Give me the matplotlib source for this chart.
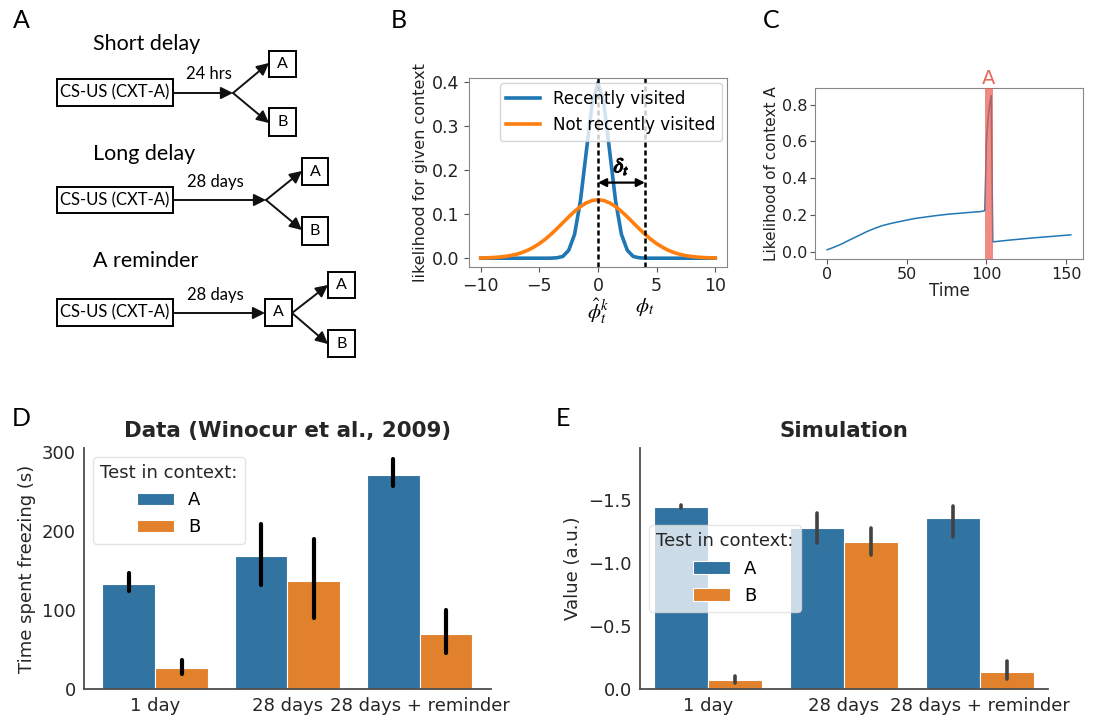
import matplotlib
matplotlib.use('Agg')
import matplotlib.pyplot as plt
import matplotlib.patheffects as pe
from matplotlib.patches import Rectangle
import numpy as np

plt.rcParams['mathtext.fontset'] = 'stix'

# ---- data ----
# B: likelihood curves
b_x = [-10.0, -9.5, -9.0, -8.5, -8.0, -7.5, -7.0, -6.5, -6.0, -5.5, -5.0, -4.5, -4.0, -3.5,
       -3.0, -2.5, -2.0, -1.5, -1.0, -0.5, 0.0, 0.5, 1.0, 1.5, 2.0, 2.5, 3.0, 3.5, 4.0,
       4.5, 5.0, 5.5, 6.0, 6.5, 7.0, 7.5, 8.0, 8.5, 9.0, 9.5, 10.0]
recent = [0, 0, 0, 0, 0, 0, 0, 0, 0, 0, 0, 0, 0.0001, 0.001,
          0.004, 0.018, 0.054, 0.130, 0.242, 0.352, 0.399, 0.352, 0.242, 0.130, 0.054, 0.018, 0.004, 0.001, 0.0001,
          0, 0, 0, 0, 0, 0, 0, 0, 0, 0, 0, 0]
not_recent = [0.0005, 0.0009, 0.0015, 0.0024, 0.0038, 0.0058, 0.0087, 0.0127, 0.0180, 0.0249, 0.0332, 0.0431, 0.0547, 0.0673,
              0.0807, 0.0940, 0.1065, 0.1174, 0.1258, 0.1312, 0.1330, 0.1312, 0.1258, 0.1174, 0.1065, 0.0940, 0.0807, 0.0673, 0.0547,
              0.0431, 0.0332, 0.0249, 0.0180, 0.0127, 0.0087, 0.0058, 0.0038, 0.0024, 0.0015, 0.0009, 0.0005]
phi_hat = 0.0
phi_t = 4.0

# C: likelihood of context A over time
c_t = [0, 4, 9, 14, 20, 25, 30, 35, 41, 46, 51, 56, 62, 67, 72, 77, 83, 88, 93, 96, 99,
       100, 101, 102, 103, 104, 115, 130, 153]
c_val = [0.012, 0.025, 0.043, 0.065, 0.090, 0.111, 0.129, 0.144, 0.157, 0.166, 0.175, 0.183, 0.190,
         0.196, 0.201, 0.206, 0.210, 0.214, 0.217, 0.219, 0.224,
         0.60, 0.72, 0.80, 0.85, 0.055, 0.065, 0.077, 0.093]
reminder_start, reminder_end = 99, 104

# D / E: bar charts
conditions = ['1 day', '28 days', '28 days + reminder']
contexts = ['A', 'B']
data_A = [133, 168, 271]
data_A_lo = [124, 131, 257]
data_A_hi = [146, 208, 290]
data_B = [26, 137, 69]
data_B_lo = [19, 90, 45]
data_B_hi = [37, 190, 100]

sim_A = [-1.443, -1.277, -1.354]
sim_A_lo = [-1.440, -1.156, -1.203]
sim_A_hi = [-1.457, -1.398, -1.456]
sim_B = [-0.071, -1.166, -0.132]
sim_B_lo = [-0.047, -1.061, -0.079]
sim_B_hi = [-0.105, -1.277, -0.224]

W, H = 1099, 719
fig = plt.figure(figsize=(W / 100, H / 100), dpi=100)

def rect(l, t, r, b):
    return [l / W, 1 - b / H, (r - l) / W, (b - t) / H]

# ---- panel letters ----
for lab, (px, py) in {'A': (21, 20), 'B': (399, 20), 'C': (771, 20),
                      'D': (21, 418), 'E': (563, 418)}.items():
    fig.text(px / W, 1 - py / H, lab, fontsize=18, family='Lato',
             ha='center', va='center')

# ---- panel A: schematic ----
axA = fig.add_axes([0, 0, 1, 1], zorder=-1)
axA.set_xlim(0, W)
axA.set_ylim(H, 0)
axA.axis('off')

def box(x0, y0, x1, y1, label, fs=11.5):
    axA.add_patch(Rectangle((x0, y0), x1 - x0, y1 - y0, fill=False, lw=1.4, ec='black'))
    axA.text((x0 + x1) / 2, (y0 + y1) / 2, label, ha='center', va='center',
             fontsize=fs, family='Lato')

def arrow(x0, y0, x1, y1):
    axA.annotate('', xy=(x1, y1), xytext=(x0, y0),
                 arrowprops=dict(arrowstyle='-|>', color='#111111', lw=1.4,
                                 mutation_scale=18, shrinkA=0, shrinkB=0))

def txt(x, y, s, fs, ha='left'):
    axA.text(x, y, s, fontsize=fs, family='Lato', ha=ha, va='center')

txt(93, 44, 'Short delay', 15.5)
box(57, 79, 173, 106, 'CS-US (CXT-A)', 12)
arrow(173, 93, 233, 93)
txt(209, 74, '24 hrs', 12, 'center')
arrow(233, 93, 269, 63)
arrow(233, 93, 269, 123)
box(269, 51, 296, 77, 'A', 11.5)
box(269, 108, 296, 136, 'B', 11.5)

txt(93, 154, 'Long delay', 15.5)
box(57, 187, 173, 213, 'CS-US (CXT-A)', 12)
arrow(173, 200, 266, 200)
txt(215, 182, '28 days', 12, 'center')
arrow(266, 200, 302, 171)
arrow(266, 200, 302, 230)
box(302, 158, 328, 185, 'A', 11.5)
box(302, 217, 328, 245, 'B', 11.5)

txt(93, 261, 'A reminder', 15.5)
box(57, 299, 173, 326, 'CS-US (CXT-A)', 12)
arrow(173, 313, 265, 313)
txt(215, 295, '28 days', 12, 'center')
box(265, 299, 292, 326, 'A', 11.5)
arrow(292, 313, 328, 285)
arrow(292, 313, 328, 344)
box(328, 272, 355, 298, 'A', 11.5)
box(328, 330, 355, 357, 'B', 11.5)

# ---- panel B ----
axB = fig.add_axes(rect(469, 78, 727, 267))
axB.plot(b_x, recent, color='#1f77b4', lw=2.6, label='Recently visited')
axB.plot(b_x, not_recent, color='#ff7f0e', lw=2.6, label='Not recently visited')
for xv in (phi_hat, phi_t):
    axB.axvline(xv, color='black', lw=1.8, linestyle=(0, (2, 1.2)))
axB.annotate('', xy=(phi_hat, 0.172), xytext=(phi_t, 0.172),
             arrowprops=dict(arrowstyle='<|-|>', color='black', lw=1.6,
                             mutation_scale=12, shrinkA=0, shrinkB=0))
axB.text((phi_hat + phi_t) / 2, 0.185, r'$\delta_t$', fontsize=15, ha='center', va='bottom',
         path_effects=[pe.withStroke(linewidth=0.9, foreground='black')])
axB.text(phi_hat, -0.155, r'$\hat{\phi}_t^k$', fontsize=15, ha='center', va='top',
         transform=axB.get_xaxis_transform())
axB.text(phi_t, -0.155, r'$\phi_t$', fontsize=15, ha='center', va='top',
         transform=axB.get_xaxis_transform())
axB.set_xlim(-11, 11)
axB.set_ylim(-0.02, 0.41)
axB.set_xticks([-10, -5, 0, 5, 10])
axB.set_yticks([0.0, 0.1, 0.2, 0.3, 0.4])
axB.tick_params(labelsize=12.5, color='#555555', labelcolor='#222222')
axB.set_ylabel('likelihood for given context', fontsize=11.5, color='#222222', labelpad=3)
for s in axB.spines.values():
    s.set_color('#888888')
axB.legend(loc='upper right', fontsize=12, borderaxespad=0.3)

# ---- panel C ----
axC = fig.add_axes(rect(815, 88, 1083, 259))
axC.plot(c_t, c_val, color='#1f77b4', lw=1.1)
axC.axvspan(reminder_start, reminder_end, color='#ea5a4e', alpha=0.7, lw=0, zorder=3)
axC.text((reminder_start + reminder_end) / 2, 1.0, 'A', color='#e8675c', fontsize=14,
         ha='center', va='bottom', transform=axC.get_xaxis_transform())
axC.set_xlim(-7.65, 160.65)
axC.set_ylim(-0.038, 0.89)
axC.set_xticks([0, 50, 100, 150])
axC.set_yticks([0.0, 0.2, 0.4, 0.6, 0.8])
axC.tick_params(labelsize=11.5, color='#555555', labelcolor='#222222', pad=2)
axC.set_xlabel('Time', fontsize=12, labelpad=0, color='#222222')
axC.set_ylabel('Likelihood of context A', fontsize=11, color='#222222', labelpad=2)
for s in axC.spines.values():
    s.set_color('#888888')

# ---- panels D, E ----
blue, orange = '#3274a1', '#e1812c'

def barpanel(ax, va, va_lo, va_hi, vb, vb_lo, vb_hi, errc, errw, title, ylabel):
    x = np.arange(len(conditions))
    w = 0.4
    ax.bar(x - w / 2, va, w, color=blue, edgecolor='white', lw=0.8, label=contexts[0])
    ax.bar(x + w / 2, vb, w, color=orange, edgecolor='white', lw=0.8, label=contexts[1])
    ax.vlines(x - w / 2, va_lo, va_hi, color=errc, lw=errw, capstyle='round', zorder=3)
    ax.vlines(x + w / 2, vb_lo, vb_hi, color=errc, lw=errw, capstyle='round', zorder=3)
    ax.set_xticks(x)
    ax.set_xticklabels(conditions)
    ax.tick_params(length=0, labelsize=13, labelcolor='#262626', pad=6)
    for s in ('top', 'right'):
        ax.spines[s].set_visible(False)
    for s in ('left', 'bottom'):
        ax.spines[s].set_color('#4d4d4d')
        ax.spines[s].set_linewidth(1.3)
    ax.set_title(title, fontsize=15.4, fontweight='bold', color='#262626', pad=8)
    ax.set_ylabel(ylabel, fontsize=13, color='#262626')

axD = fig.add_axes(rect(84, 448, 491, 689))
barpanel(axD, data_A, data_A_lo, data_A_hi, data_B, data_B_lo, data_B_hi,
         'black', 3.0, 'Data (Winocur et al., 2009)', 'Time spent freezing (s)')
axD.set_xlim(-0.54, 2.54)
axD.set_ylim(0, 304.5)
axD.set_yticks([0, 100, 200, 300])
legD = axD.legend(title='Test in context:', loc='upper left', fontsize=13,
                  title_fontsize=13, frameon=True, edgecolor='#dddddd')
legD.get_title().set_color('#262626')

axE = fig.add_axes(rect(640, 448, 1048, 689))
barpanel(axE, sim_A, sim_A_lo, sim_A_hi, sim_B, sim_B_lo, sim_B_hi,
         '#424242', 2.6, 'Simulation', 'Value (a.u.)')
axE.set_xlim(-0.5, 2.5)
axE.set_ylim(0, -1.913)
axE.set_yticks([0.0, -0.5, -1.0, -1.5])
legE = axE.legend(title='Test in context:', loc='center left', fontsize=13,
                  title_fontsize=13, frameon=True, edgecolor='#dddddd', framealpha=0.75)
legE.get_title().set_color('#262626')

fig.savefig('out.png', dpi=100)
